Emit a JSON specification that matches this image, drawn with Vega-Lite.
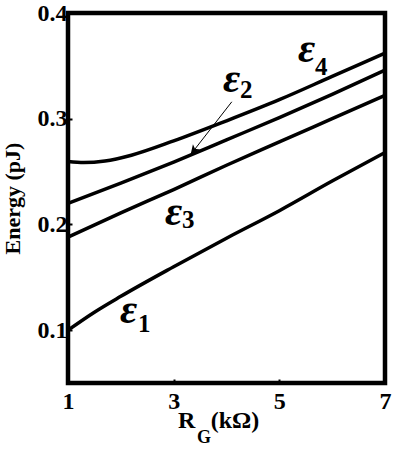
{
  "$schema": "https://vega.github.io/schema/vega-lite/v6.json",
  "width": 317,
  "height": 370,
  "autosize": "none",
  "padding": {"left": 68, "top": 13, "right": 13, "bottom": 71},
  "background": "white",
  "config": {
    "view": {"stroke": "black", "strokeWidth": 4.5},
    "font": "Liberation Serif"
  },
  "datasets": {
    "curves": [
      {"c": "e1", "R": 1, "E": 0.100}, {"c": "e1", "R": 1.5, "E": 0.117}, {"c": "e1", "R": 2, "E": 0.132},
      {"c": "e1", "R": 3, "E": 0.160}, {"c": "e1", "R": 4, "E": 0.187}, {"c": "e1", "R": 5, "E": 0.213},
      {"c": "e1", "R": 6, "E": 0.241}, {"c": "e1", "R": 7, "E": 0.268},
      {"c": "e2", "R": 1, "E": 0.220}, {"c": "e2", "R": 2, "E": 0.239}, {"c": "e2", "R": 3, "E": 0.259},
      {"c": "e2", "R": 4, "E": 0.280}, {"c": "e2", "R": 5, "E": 0.301}, {"c": "e2", "R": 6, "E": 0.323},
      {"c": "e2", "R": 7, "E": 0.346},
      {"c": "e3", "R": 1, "E": 0.188}, {"c": "e3", "R": 2, "E": 0.211}, {"c": "e3", "R": 3, "E": 0.233},
      {"c": "e3", "R": 4, "E": 0.256}, {"c": "e3", "R": 5, "E": 0.278}, {"c": "e3", "R": 6, "E": 0.300},
      {"c": "e3", "R": 7, "E": 0.322},
      {"c": "e4", "R": 1, "E": 0.2595}, {"c": "e4", "R": 1.3, "E": 0.2585}, {"c": "e4", "R": 1.7, "E": 0.2600},
      {"c": "e4", "R": 2.2, "E": 0.2655}, {"c": "e4", "R": 3, "E": 0.279}, {"c": "e4", "R": 4, "E": 0.298},
      {"c": "e4", "R": 5, "E": 0.318}, {"c": "e4", "R": 6, "E": 0.340}, {"c": "e4", "R": 7, "E": 0.362}
    ],
    "labels": [
      {"t": "ε", "s": "4", "eR": 5.354, "eE": 0.3536, "sR": 5.675, "sE": 0.3413},
      {"t": "ε", "s": "2", "eR": 3.934, "eE": 0.3253, "sR": 4.256, "sE": 0.3196},
      {"t": "ε", "s": "3", "eR": 2.836, "eE": 0.1994, "sR": 3.158, "sE": 0.1966},
      {"t": "ε", "s": "1", "eR": 1.984, "eE": 0.1067, "sR": 2.325, "sE": 0.0982}
    ],
    "arrow": [
      {"R1": 4.10, "E1": 0.316, "R2": 3.32, "E2": 0.266}
    ],
    "xtitle": [
      {"t": "R", "R": 3.08, "E": 0.05},
      {"t": "(kΩ)", "R": 3.70, "E": 0.05}
    ],
    "xsub": [
      {"t": "G", "R": 3.44, "E": 0.05}
    ]
  },
  "layer": [
    {
      "data": {"name": "curves"},
      "mark": {"type": "line", "color": "black", "strokeWidth": 3.5, "interpolate": "monotone"},
      "encoding": {
        "x": {
          "field": "R", "type": "quantitative",
          "scale": {"domain": [1, 7], "nice": false, "zero": false},
          "axis": {
            "values": [1, 3, 5, 7], "title": null, "grid": false, "domain": false,
            "tickSize": -4, "tickWidth": 2, "tickColor": "black",
            "labelFont": "Liberation Serif", "labelFontSize": 24, "labelFontWeight": "bold",
            "labelColor": "black", "labelPadding": 10, "labelFlush": false
          }
        },
        "y": {
          "field": "E", "type": "quantitative",
          "scale": {"domain": [0.05, 0.4], "nice": false, "zero": false},
          "axis": {
            "values": [0.1, 0.2, 0.3, 0.4], "format": ".1f", "title": "Energy (pJ)", "grid": false, "domain": false,
            "tickSize": -4, "tickWidth": 2, "tickColor": "black",
            "labelFont": "Liberation Serif", "labelFontSize": 24, "labelFontWeight": "bold",
            "labelColor": "black", "labelPadding": 5, "labelFlush": false,
            "titleFont": "Liberation Serif", "titleFontSize": 22, "titleFontWeight": "bold",
            "titleColor": "black", "titlePadding": 13
          }
        },
        "detail": {"field": "c"}
      }
    },
    {
      "data": {"name": "labels"},
      "mark": {"type": "text", "font": "Liberation Serif", "fontSize": 42, "fontStyle": "italic", "fontWeight": "bold", "align": "left", "baseline": "alphabetic", "color": "black"},
      "encoding": {
        "x": {"field": "eR", "type": "quantitative"},
        "y": {"field": "eE", "type": "quantitative"},
        "text": {"field": "t"}
      }
    },
    {
      "data": {"name": "labels"},
      "mark": {"type": "text", "font": "Liberation Serif", "fontSize": 25, "fontWeight": "bold", "align": "left", "baseline": "alphabetic", "color": "black"},
      "encoding": {
        "x": {"field": "sR", "type": "quantitative"},
        "y": {"field": "sE", "type": "quantitative"},
        "text": {"field": "s"}
      }
    },
    {
      "data": {"name": "arrow"},
      "mark": {"type": "rule", "color": "black", "strokeWidth": 1},
      "encoding": {
        "x": {"field": "R1", "type": "quantitative"},
        "y": {"field": "E1", "type": "quantitative"},
        "x2": {"field": "R2"},
        "y2": {"field": "E2"}
      }
    },
    {
      "data": {"name": "arrow"},
      "mark": {"type": "point", "shape": "M0,0L-0.45,-1L0,-0.75L0.45,-1Z", "filled": true, "color": "black", "size": 380, "angle": 37, "opacity": 1},
      "encoding": {
        "x": {"field": "R2", "type": "quantitative"},
        "y": {"field": "E2", "type": "quantitative"}
      }
    },
    {
      "data": {"name": "xtitle"},
      "mark": {"type": "text", "font": "Liberation Serif", "fontSize": 24, "fontWeight": "bold", "align": "left", "baseline": "alphabetic", "dy": 45, "color": "black"},
      "encoding": {
        "x": {"field": "R", "type": "quantitative"},
        "y": {"field": "E", "type": "quantitative"},
        "text": {"field": "t"}
      }
    },
    {
      "data": {"name": "xsub"},
      "mark": {"type": "text", "font": "Liberation Serif", "fontSize": 18, "fontWeight": "bold", "align": "left", "baseline": "alphabetic", "dy": 60, "color": "black"},
      "encoding": {
        "x": {"field": "R", "type": "quantitative"},
        "y": {"field": "E", "type": "quantitative"},
        "text": {"field": "t"}
      }
    }
  ]
}
